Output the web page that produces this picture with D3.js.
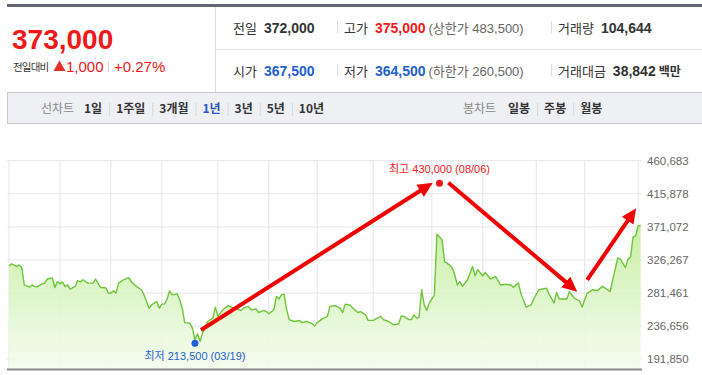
<!DOCTYPE html>
<html>
<head>
<meta charset="utf-8">
<script src="https://cdn.jsdelivr.net/npm/d3@7"></script>
<style>
  body { margin: 0; background: #fff; }
  svg { display: block; font-family: "Liberation Sans", "Noto Sans CJK KR", sans-serif; }
</style>
</head>
<body>
<svg id="chart"></svg>
<script>
// Quote summary
const PRICE = "373,000";
const CHANGE = "1,000";
const CHANGE_PCT = "+0.27%";
const QUOTE_LABELS = [["전일", "고가", "거래량"], ["시가", "저가", "거래대금"]];
const QUOTE_VALUES = [["372,000", "375,000", "104,644"], ["367,500", "364,500", "38,842"]];
const LIMITS = ["(상한가 483,500)", "(하한가 260,500)"];

// Period tabs
const LINE_TABS = ["1일", "1주일", "3개월", "1년", "3년", "5년", "10년"];
const CANDLE_TABS = ["일봉", "주봉", "월봉"];
const ACTIVE_TAB = "1년";

// Daily closes: [trading day, price]
const CLOSES = [
  [0, 318500], [1, 321000], [3, 317500], [4, 319500], [5, 316000], [6, 292500], [8, 289500],
  [9, 292500], [10, 290500], [11, 290000], [13, 294000], [14, 295000], [15, 300500], [17, 302000],
  [18, 289000], [19, 297000], [20, 294000], [21, 296500], [22, 290500], [23, 292500], [24, 287000],
  [26, 290500], [27, 298500], [28, 296500], [29, 299500], [31, 295000], [33, 295000], [34, 300500],
  [36, 289000], [38, 288500], [39, 281500], [40, 281500], [41, 284500], [42, 281500], [43, 295000],
  [45, 299500], [47, 302500], [48, 297000], [50, 290500], [52, 286000], [53, 279000], [55, 261000],
  [56, 265500], [57, 268000], [58, 270000], [59, 261000], [60, 266500], [61, 266500], [62, 272500],
  [63, 284500], [64, 279000], [66, 280500], [67, 272500], [68, 261000], [69, 241500], [71, 241000],
  [72, 234000], [73, 218000], [74, 226500], [75, 216000], [76, 227500], [78, 243000], [80, 247500],
  [81, 262500], [82, 250000], [84, 259000], [86, 264500], [88, 261000], [91, 258000], [92, 261000],
  [94, 263500], [95, 259000], [97, 260000], [98, 255000], [100, 258000], [101, 256500], [102, 253500],
  [104, 259000], [105, 277000], [106, 273500], [107, 279000], [108, 280000], [109, 259000], [110, 245500],
  [112, 243000], [114, 244500], [115, 241500], [117, 243000], [119, 240000], [120, 237000], [121, 241500],
  [123, 246500], [125, 250000], [126, 263500], [128, 264500], [130, 261000], [131, 255000], [132, 266500],
  [134, 265000], [135, 261000], [137, 255000], [138, 256500], [140, 252000], [141, 244500], [143, 244500],
  [144, 246500], [146, 250000], [147, 245500], [149, 243000], [151, 238500], [153, 240000], [154, 250500],
  [155, 250000], [157, 245500], [158, 245500], [159, 252000], [160, 247500], [161, 249000], [162, 286000],
  [163, 265500], [164, 258000], [165, 268000], [167, 279000], [168, 361500], [169, 357500], [170, 353500],
  [171, 324000], [172, 322000], [174, 316000], [175, 306000], [176, 292500], [177, 297000], [178, 290500],
  [180, 299500], [182, 317500], [183, 305000], [184, 313000], [186, 305000], [187, 309500], [189, 300500],
  [191, 304000], [193, 292500], [195, 293500], [197, 292500], [198, 289500], [200, 295000], [201, 280500],
  [203, 262500], [205, 265500], [206, 273500], [208, 286000], [211, 288000], [212, 280500], [214, 268000],
  [215, 282500], [216, 273500], [219, 273500], [220, 283500], [222, 274500], [223, 272500], [224, 271000],
  [225, 262500], [227, 281500], [228, 283500], [229, 286000], [231, 285000], [233, 290500], [235, 286000],
  [236, 283500], [237, 299500], [239, 329000], [240, 327500], [242, 316000], [243, 327500], [244, 330000],
  [245, 357500], [246, 359000], [247, 372500], [248, 373000]
];

const Y_TICKS = [191850, 236656, 281461, 326267, 371072, 415878, 460683];
const MONTH_STARTS = [0, 20, 40, 60, 82, 102, 121, 143, 166, 186, 207, 226, 247];

// Low / high markers: [trading day, price, label, date]
const LOW_MARK = [73, 213500, "최저", "03/19"];
const HIGH_MARK = [169, 430000, "최고", "08/06"];

// Hand-drawn arrows in data space: [[day, price], [day, price]]
const ARROWS = [
  [[75.4, 231500], [166.4, 430900]],
  [[172.5, 430900], [223.1, 283400]],
  [[227, 299200], [246.2, 396300]]
];

// SVG constants
const WIDTH = 702;
const HEIGHT = 375;
const RED = "#f01818";
const BLUE = "#1f5fd2";
const FONT_KR = "'Noto Sans CJK KR', sans-serif";

const svg = d3.select("#chart")
  .attr("width", WIDTH)
  .attr("height", HEIGHT);

// ---------- Header ----------
svg.append("rect").attr("x", 7).attr("y", 4).attr("width", WIDTH - 7).attr("height", 3).attr("fill", "#62666f");
svg.append("line").attr("x1", 215.5).attr("x2", 215.5).attr("y1", 7).attr("y2", 92).attr("stroke", "#dcdcdc");
svg.append("line").attr("x1", 216).attr("x2", WIDTH).attr("y1", 49.5).attr("y2", 49.5).attr("stroke", "#e8e8e8");

svg.append("text")
  .attr("x", 12).attr("y", 49)
  .attr("font-size", 28).attr("font-weight", "bold")
  .attr("fill", RED)
  .text(PRICE);

svg.append("text")
  .attr("x", 13).attr("y", 71)
  .attr("font-size", 10.5).attr("font-family", FONT_KR)
  .attr("letter-spacing", -0.8)
  .attr("fill", "#333")
  .text("전일대비");

svg.append("polygon")
  .attr("points", "53.5,71 59.5,60.5 65.5,71")
  .attr("fill", "#e8302a");

svg.append("text")
  .attr("x", 66).attr("y", 72)
  .attr("font-size", 15).attr("fill", RED)
  .text(CHANGE);

svg.append("line").attr("x1", 108.5).attr("x2", 108.5).attr("y1", 62).attr("y2", 72).attr("stroke", "#d0d0d0");

svg.append("text")
  .attr("x", 114).attr("y", 72)
  .attr("font-size", 15).attr("fill", RED)
  .text(CHANGE_PCT);

// Quote table
const colX = [233, 344, 558];
const rowY = [33, 76];
const valueColors = [["#333", RED, "#333"], [BLUE, BLUE, "#333"]];

QUOTE_LABELS.forEach((row, r) => {
  row.forEach((label, c) => {
    const lbl = svg.append("text")
      .attr("x", colX[c]).attr("y", rowY[r])
      .attr("font-size", 13).attr("font-family", FONT_KR)
      .attr("fill", "#333")
      .text(label);
    const vx = colX[c] + lbl.node().getComputedTextLength() + 7;
    const val = svg.append("text")
      .attr("x", vx).attr("y", rowY[r])
      .attr("font-size", 14).attr("font-weight", "bold")
      .attr("fill", valueColors[r][c])
      .text(QUOTE_VALUES[r][c]);
    const vEnd = vx + val.node().getComputedTextLength();
    if (c === 1) {
      svg.append("text")
        .attr("x", vEnd + 3).attr("y", rowY[r])
        .attr("font-size", 13)
        .attr("fill", "#666")
        .text(LIMITS[r]);
    }
    if (c === 2 && r === 1) {
      svg.append("text")
        .attr("x", vEnd + 3).attr("y", rowY[r])
        .attr("font-size", 12).attr("font-weight", "bold").attr("font-family", FONT_KR)
        .attr("fill", "#333")
        .text("백만");
    }
    if (c > 0) {
      svg.append("line")
        .attr("x1", colX[c] - 6.5).attr("x2", colX[c] - 6.5)
        .attr("y1", rowY[r] - 12).attr("y2", rowY[r])
        .attr("stroke", "#dddddd");
    }
  });
});

// ---------- Tab bar ----------
svg.append("rect")
  .attr("x", 7.5).attr("y", 92.5).attr("width", WIDTH).attr("height", 31)
  .attr("fill", "#eff0f4").attr("stroke", "#c6c6c6");

function tabGroup(title, titleX, itemStartX, items) {
  svg.append("text")
    .attr("x", titleX).attr("y", 113)
    .attr("font-size", 12).attr("font-family", FONT_KR)
    .attr("fill", "#888")
    .text(title);
  let x = itemStartX;
  items.forEach((t, i) => {
    if (i > 0) {
      svg.append("line")
        .attr("x1", x + 0.5).attr("x2", x + 0.5).attr("y1", 103).attr("y2", 116)
        .attr("stroke", "#d4d5da");
      x += 7;
    }
    const txt = svg.append("text")
      .attr("x", x).attr("y", 113)
      .attr("font-size", 12).attr("font-weight", "bold").attr("font-family", FONT_KR)
      .attr("fill", t === ACTIVE_TAB ? "#2a55c8" : "#333")
      .text(t);
    x += txt.node().getComputedTextLength() + 7;
  });
}
tabGroup("선차트", 41, 84, LINE_TABS);
tabGroup("봉차트", 463, 508, CANDLE_TABS);

// ---------- Chart ----------
const PLOT_LEFT = 7;
const PLOT_RIGHT = 642;
const PLOT_BOTTOM = 369;

const xScale = d3.scaleLinear()
  .domain([0, 248])
  .range([9, 640.7]);

const yScale = d3.scaleLinear()
  .domain([d3.min(Y_TICKS), d3.max(Y_TICKS)])
  .range([359.3, 160.7]);

// Gridlines
svg.selectAll(".hgrid")
  .data(Y_TICKS)
  .enter()
  .append("line")
  .attr("class", "hgrid")
  .attr("x1", PLOT_LEFT).attr("x2", PLOT_RIGHT)
  .attr("y1", d => yScale(d)).attr("y2", d => yScale(d))
  .attr("stroke", "#e6e6e6");

svg.selectAll(".vgrid")
  .data(MONTH_STARTS)
  .enter()
  .append("line")
  .attr("class", "vgrid")
  .attr("x1", d => xScale(d)).attr("x2", d => xScale(d))
  .attr("y1", yScale(d3.max(Y_TICKS))).attr("y2", PLOT_BOTTOM)
  .attr("stroke", "#e6e6e6");

// Area gradient
const grad = svg.append("defs").append("linearGradient")
  .attr("id", "areaFill")
  .attr("gradientUnits", "userSpaceOnUse")
  .attr("x1", 0).attr("x2", 0)
  .attr("y1", 220).attr("y2", PLOT_BOTTOM);
grad.append("stop").attr("offset", 0).attr("stop-color", "#c4ee9e").attr("stop-opacity", 0.95);
grad.append("stop").attr("offset", 1).attr("stop-color", "#f4fcee").attr("stop-opacity", 0.9);

const area = d3.area()
  .x(d => xScale(d[0]))
  .y0(PLOT_BOTTOM)
  .y1(d => yScale(d[1]));

const line = d3.line()
  .x(d => xScale(d[0]))
  .y(d => yScale(d[1]));

svg.append("path")
  .datum(CLOSES)
  .attr("d", area)
  .attr("fill", "url(#areaFill)");

svg.append("path")
  .datum(CLOSES)
  .attr("d", line)
  .attr("fill", "none")
  .attr("stroke", "#6cc63a")
  .attr("stroke-width", 1.4)
  .attr("stroke-linejoin", "round");

// Bottom axis line
svg.append("line")
  .attr("x1", PLOT_LEFT).attr("x2", PLOT_RIGHT)
  .attr("y1", PLOT_BOTTOM + 0.5).attr("y2", PLOT_BOTTOM + 0.5)
  .attr("stroke", "#8a8a8a").attr("stroke-width", 2);

// Y labels on the right
svg.selectAll(".ylabel")
  .data(Y_TICKS)
  .enter()
  .append("text")
  .attr("class", "ylabel")
  .attr("x", 647)
  .attr("y", d => yScale(d) + 4)
  .attr("font-size", 11.5)
  .attr("fill", "#666")
  .text(d => d3.format(",")(d));

// Low / high markers
function marker(mark, color, dy) {
  const cx = xScale(mark[0]);
  const cy = yScale(mark[1]);
  svg.append("circle")
    .attr("cx", cx).attr("cy", cy).attr("r", 3.5)
    .attr("fill", color);
  svg.append("text")
    .attr("x", cx).attr("y", cy + dy)
    .attr("text-anchor", "middle")
    .attr("font-size", 11)
    .attr("fill", color)
    .text(`${mark[2]} ${d3.format(",")(mark[1])} (${mark[3]})`);
}
marker(LOW_MARK, BLUE, 17);
marker(HIGH_MARK, RED, -10);

// Red arrows
function drawArrow(a) {
  const x1 = xScale(a[0][0]), y1 = yScale(a[0][1]);
  const x2 = xScale(a[1][0]), y2 = yScale(a[1][1]);
  const ang = Math.atan2(y2 - y1, x2 - x1);
  const headLen = 15, headW = 7;
  const bx = x2 - headLen * Math.cos(ang);
  const by = y2 - headLen * Math.sin(ang);
  svg.append("line")
    .attr("x1", x1).attr("y1", y1)
    .attr("x2", bx + Math.cos(ang)).attr("y2", by + Math.sin(ang))
    .attr("stroke", "#f00000")
    .attr("stroke-width", 4);
  svg.append("polygon")
    .attr("points", [
      [x2, y2],
      [bx + headW * Math.sin(ang), by - headW * Math.cos(ang)],
      [bx - headW * Math.sin(ang), by + headW * Math.cos(ang)]
    ].map(p => p.join(",")).join(" "))
    .attr("fill", "#f00000");
}
ARROWS.forEach(drawArrow);
</script>
</body>
</html>
